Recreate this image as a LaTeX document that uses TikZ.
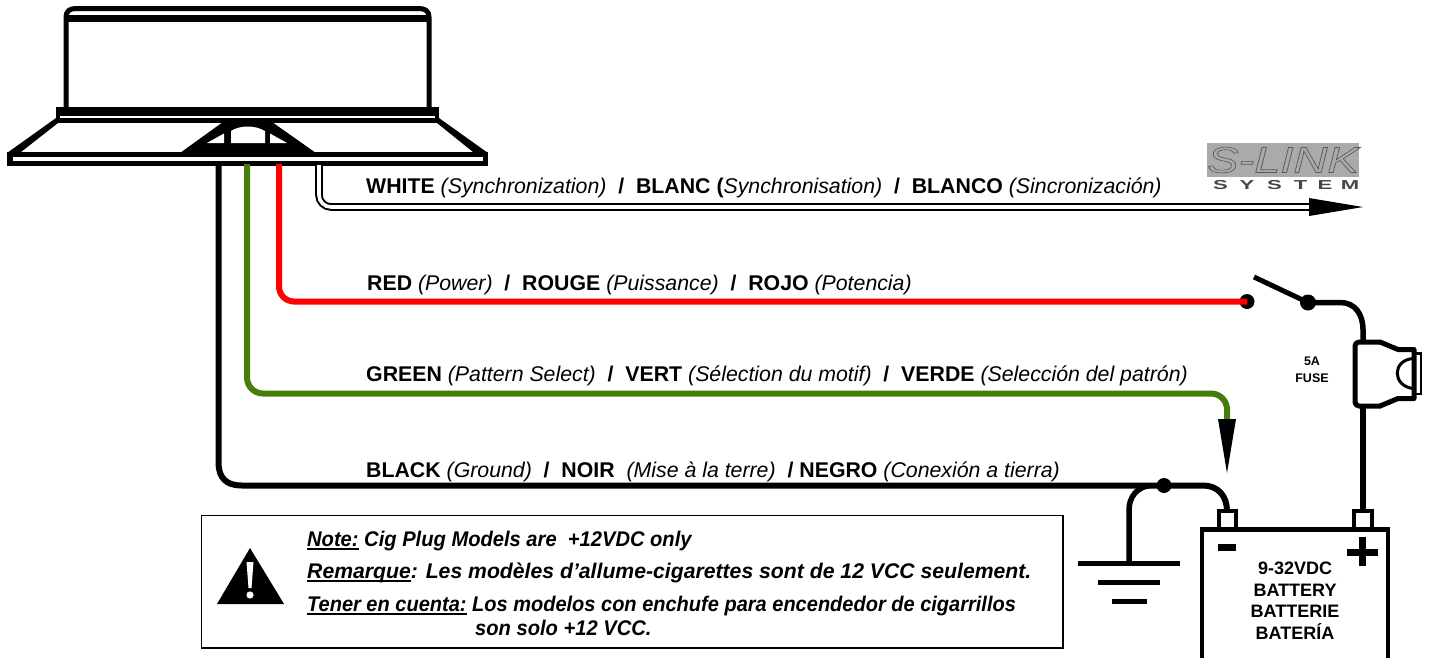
\documentclass[tikz,border=0pt]{standalone}
\usepackage{fontspec}
\setmainfont{Liberation Sans}
\definecolor{wiregreen}{RGB}{70,125,10}
\definecolor{logogray}{RGB}{170,170,170}
\definecolor{logotext}{RGB}{70,70,70}
\newcommand{\outlinetext}[1]{\special{pdf:code 1 Tr 0.6 w 0.35 G}#1\special{pdf:code 0 Tr}}
\newcommand{\thickul}[1]{\setbox0\hbox{#1}\rlap{\rule[-4pt]{\wd0}{2.4pt}}\box0\relax}
\tikzset{
  wire/.style={line width=6pt,draw=black},
  lampline/.style={line width=5pt,draw=black,line join=round},
  label/.style={anchor=base west,inner sep=0pt,font=\fontsize{21.3}{24}\selectfont},
  notetext/.style={anchor=base west,inner sep=0pt,font=\fontsize{21.2}{24}\selectfont\bfseries\itshape},
  battext/.style={anchor=base,inner sep=0pt,font=\fontsize{18}{20}\selectfont\bfseries},
  fusetext/.style={anchor=base,inner sep=0pt,font=\fontsize{12.5}{15}\selectfont\bfseries},
  dot/.style={circle,fill=black,inner sep=0pt,minimum size=#1},
  gbar/.style={line width=5pt,draw=black},
  sysletter/.style={anchor=base,inner sep=0pt,text=logotext,font=\fontsize{13}{13}\selectfont\bfseries,xscale=1.7}
}
\begin{document}
\begin{tikzpicture}[x=1pt,y=-1pt]
\useasboundingbox (0,0) rectangle (1429,657);
\clip (0,0) rectangle (1429,657);
% ---- lamp
\draw[lampline] (66,108) -- (66,17) .. controls (66,11) and (70,8.5) .. (76,8.5) -- (419,8.5) .. controls (425,8.5) and (429,11) .. (429,17) -- (429,108);
\draw[line width=6.7pt] (66,18.5) -- (429,18.5);
\fill (56,107) rectangle (439,122.5);
\fill[white] (60,115.5) rectangle (435,117.5);
\fill (7,153) -- (56,118) -- (58,123) -- (21,152) -- cycle;
\fill (488,153) -- (439,118) -- (437,123) -- (473,152) -- cycle;
\fill (7,151.5) rectangle (488,165.7);
\fill[white] (13,157) rectangle (483,160.5);
\fill (180,153) -- (223,122) -- (272,122) -- (316,153) -- cycle;
\fill[white] (207,143) -- (224,133.5) -- (224,143) -- cycle;
\fill[white] (270,133.5) -- (270,143) -- (287,143) -- cycle;
\fill[white] (231,143) -- (231,131) .. controls (240,125) and (255,125) .. (265,131) -- (265,143) -- cycle;
% ---- anchors
\coordinate (blackstart) at (218.5,165);
\coordinate (greenstart) at (247,164);
\coordinate (redstart) at (279,164);
\coordinate (whitestart) at (319,165);
\coordinate (whiteend) at (1312,207);
\coordinate (greenend) at (1227,425);
\coordinate (junction) at (1164,485.5);
\coordinate (gndtop) at (1129,563);
% ---- switch, fuse, battery nodes
\node[dot=15pt] (redterm) at (1247,301.5) {};
\node[dot=16pt] (swpivot) at (1308,302.5) {};
\node[dot=15pt] (gnddot) at (junction) {};
\coordinate (fusetop) at (1363,342);
\coordinate (fusebot) at (1363,406);
\coordinate (minus) at (1227,510);
\coordinate (plus) at (1363,510);
\coordinate (swtip) at (1254,277);
% ---- wires
\draw[line width=2pt,double=white,double distance=3.6pt,rounded corners=12pt] (whitestart) -- (319,207) -- (whiteend);
\fill (1309,198) -- (1363,207) -- (1309,216) -- cycle;
\draw[wire,draw=red,rounded corners=15pt] (redstart) -- (279,301.5) -- (redterm.center);
\draw[wire,draw=wiregreen,rounded corners=16pt] (greenstart) -- (247,393.5) -- (1227,393.5) -- (greenend);
\fill (1218,419) -- (1236,419) -- (1227,473) -- cycle;
\draw[wire,line cap=butt] (blackstart) -- (218.5,462) .. controls (218.5,478) and (226,485.5) .. (242,485.5) -- (1203,485.5) .. controls (1218,485.5) and (1227,496) .. (1227,511);
\draw[wire,line width=5.5pt] (1150,485.5) .. controls (1137,487) and (1129,497) .. (gndtop |- 0,510) -- (gndtop);
% ---- switch
\draw[line width=5pt] (swtip) -- (swpivot.center);
\draw[wire,line width=5.5pt] (swpivot.center) -- (1340,302.5) .. controls (1355,302.5) and (1363,314) .. (fusetop |- 0,330) -- (fusetop);
\draw[wire,line width=5.5pt] (fusebot) -- (plus);
% ---- fuse
\draw[line width=5pt,line join=round,rounded corners=4pt] (1381,342) -- (1355,342) -- (1355,406) -- (1381,406);
\draw[line width=5pt,line join=round] (1380,342) -- (1398,349.5) -- (1414,349.5) -- (1414,398.5) -- (1398,398.5) -- (1380,406);
\draw[line width=2.5pt] (1415,353.5) -- (1421,353.5) -- (1421,394) -- (1415,394);
\draw[line width=3pt] (1413,358.5) .. controls (1392,360) and (1392,386) .. (1413,388.5);
\node[fusetext] (fuselabel) at (1312,365) {5A};
\node[fusetext] (fuselabelb) at (1312,382) {FUSE};
% ---- ground
\draw[gbar] (1078,563) -- (1180,563);
\draw[gbar] (1098,582) -- (1160,582);
\draw[gbar] (1112,601) -- (1147,601);
% ---- battery
\draw[line width=4pt] (1218.5,529) -- (1218.5,511) -- (1235.5,511) -- (1235.5,529);
\draw[line width=4pt] (1354,529) -- (1354,511) -- (1372,511) -- (1372,529);
\draw[line width=4.5pt] (1202,660) -- (1202,529.5) -- (1388,529.5) -- (1388,660);
\fill (1218,544) rectangle (1236,551);
\fill (1347,549) rectangle (1378,555.5);
\fill (1359,537) rectangle (1365.5,566);
\node[battext] (bat1) at (1295,574) {9-32VDC};
\node[battext] (bat2) at (1295,596) {BATTERY};
\node[battext] (bat3) at (1295,617) {BATTERIE};
\node[battext] (bat4) at (1295,639) {BATERÍA};
% ---- logo
\fill[logogray] (1207,143) rectangle (1359,177);
\node[inner sep=0pt,font=\fontsize{37}{37}\selectfont\itshape,xscale=1.27,yscale=0.98] (logoS) at (1283,160) {\outlinetext{S-LINK}};
\node[sysletter] (sys1) at (1220.5,189.5) {S};
\node[sysletter] (sys2) at (1247,189.5) {Y};
\node[sysletter] (sys3) at (1274.5,189.5) {S};
\node[sysletter] (sys4) at (1300.5,189.5) {T};
\node[sysletter] (sys5) at (1325,189.5) {E};
\node[sysletter] (sys6) at (1350,189.5) {M};
% ---- labels
\node[label] (lw) at (366,193) {\textbf{WHITE} \textit{(Synchronization)} \ \textbf{/} \ \textbf{BLANC (}\textit{Synchronisation)} \ \textbf{/} \ \textbf{BLANCO} \textit{(Sincronización)}};
\node[label] (lr) at (367,290.5) {\textbf{RED} \textit{(Power)} \ \textbf{/} \ \textbf{ROUGE} \textit{(Puissance)} \ \textbf{/} \ \textbf{ROJO} \textit{(Potencia)}};
\node[label] (lg) at (366,381.5) {\textbf{GREEN} \textit{(Pattern Select)} \ \textbf{/} \ \textbf{VERT} \textit{(Sélection du motif)} \ \textbf{/} \ \textbf{VERDE} \textit{(Selección del patrón)}};
\node[label] (lb) at (366,477.5) {\textbf{BLACK} \textit{(Ground)} \ \textbf{/} \ \textbf{NOIR} \ \textit{(Mise à la terre)}\hspace{6pt} \textbf{/ NEGRO} \textit{(Conexión a tierra)}};
% ---- note box
\draw[line width=1.8pt] (201.5,515.5) rectangle (1063,648);
\fill (250,548) -- (284,604) -- (217,604) -- cycle;
\fill[white] (246.5,562) -- (253.5,562) -- (251.5,588) -- (248.5,588) -- cycle;
\fill[white] (250,595) circle (3.6pt);
\node[notetext,xscale=0.95] (n1) at (307,546) {\thickul{Note:} Cig Plug Models are \ +12VDC only};
\node[notetext] (n2) at (307,578) {\thickul{Remarque}: Les modèles d’allume-cigarettes sont de 12 VCC seulement.};
\node[notetext,xscale=0.944] (n3) at (307,611) {\thickul{Tener en cuenta:} Los modelos con enchufe para encendedor de cigarrillos};
\node[notetext,xscale=0.95] (n4) at (475,635) {son solo +12 VCC.};
\end{tikzpicture}
\end{document}
